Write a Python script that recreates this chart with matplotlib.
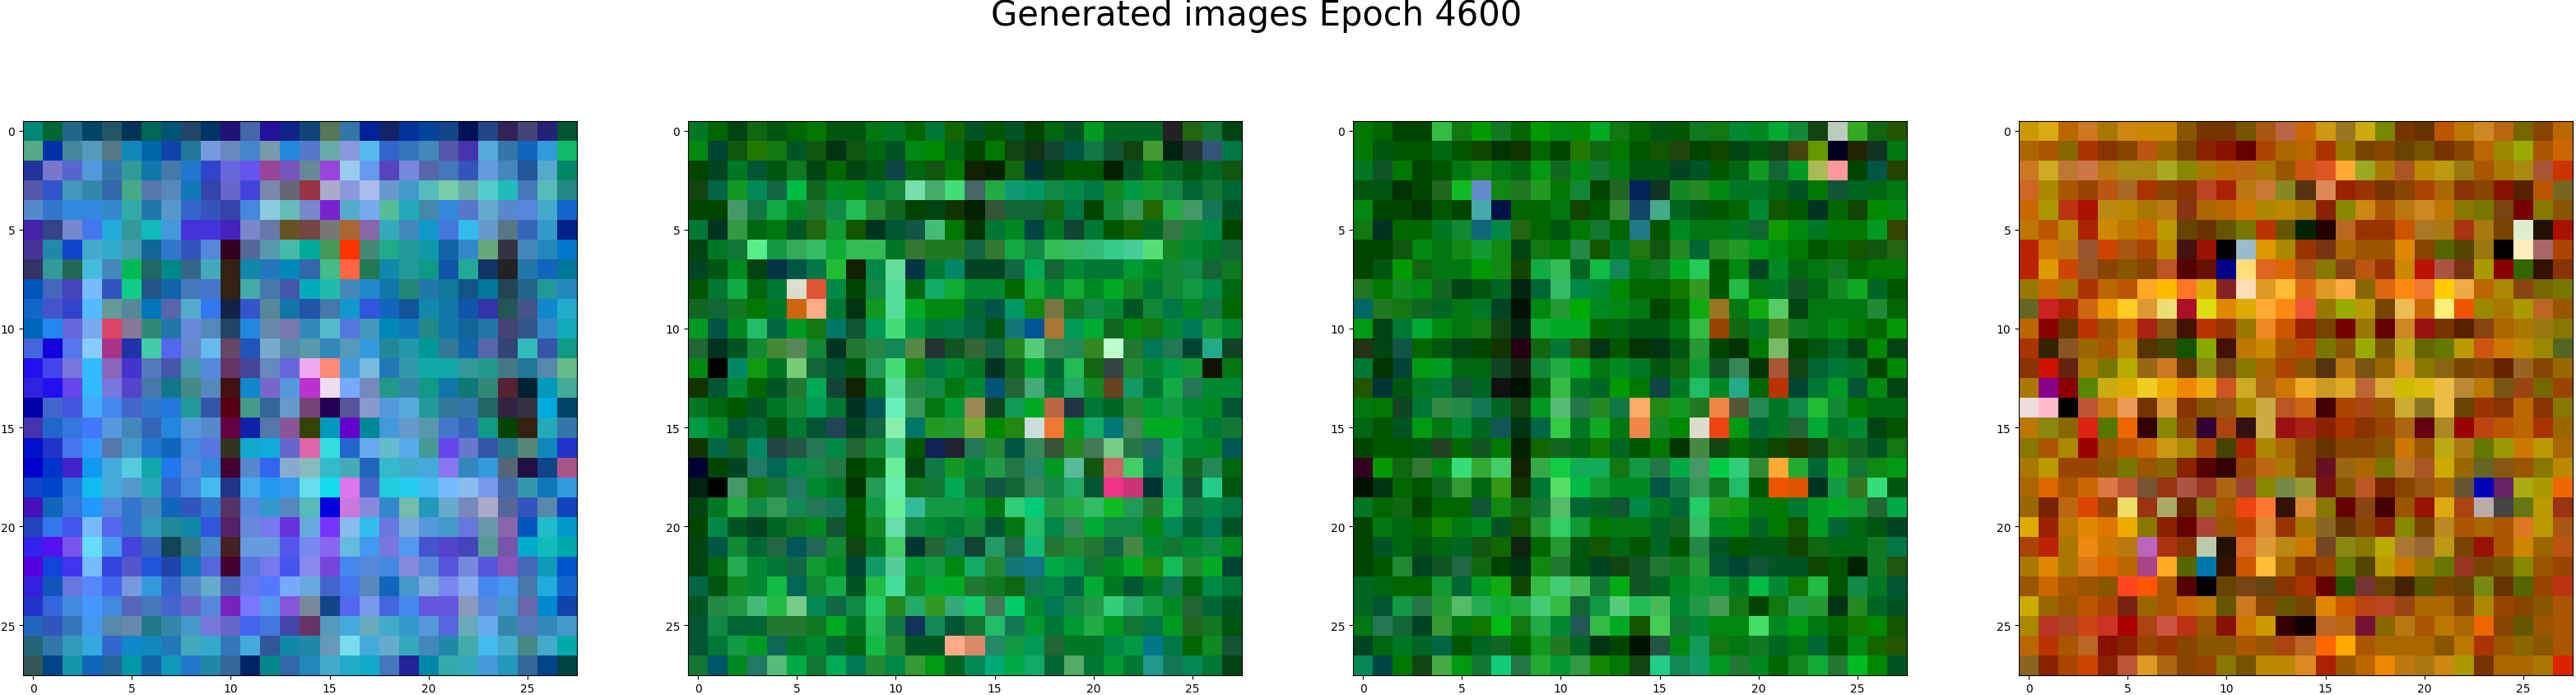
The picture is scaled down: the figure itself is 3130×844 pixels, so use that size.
import numpy as np
import matplotlib
matplotlib.use("Agg")
import matplotlib.pyplot as plt

# each cell is a 3-digit hex colour (r, g, b in 0-f), 28 rows x 28 cells per image
img_blue = [
    "087 063 268 046 256 035 065 057 246 036 217 46a 219 128 147 575 37a 029 126 039 049 148 015 248 325 447 227 053",
    "5a8 03a 489 59b 578 18b 06a 14a 279 79d 68b 48c 79a 28d 57c 6aa 89d 5be 36c 37b 48b 55a 43a 5ad 37a 16b 39d 1b6",
    "239 77c 56c 59d 37a 399 17a 47a 27c 34c 66d 65e 949 75b 689 94d 9ce 69e 54b 78d 56a 47b 35b 69d 48b 259 5ac 086",
    "55a 35c 49b 38a 36a 4a8 57a 58b 17b 34a 66c 44d 78a 667 934 aac 89d abe 69c 49c 5bb 7ca 6aa 5cc 2bb 47b 5bb 288",
    "58c 37c 38d 38d 38c 3aa 27a 59c 36c 35b 34a 48d 8cd 6bb 78c 72c 5ac 7ae 5b9 2ab 48a 38d 57c 6ac 58c 58d 4ac 16c",
    "42a 348 78c 47e 2ad 399 1bb 49d 43d 43d 42b 78c 67a 652 744 777 a63 86a 3ab 48b 19c 47d 3be 69c 578 36b 39c 028",
    "439 28a 14c 4ac 3ac 49a 169 37c 35b 58d 302 569 59a 4ba 0a9 495 f30 487 2a8 299 19a 16a 38c 6a7 334 48b 28b 07c",
    "336 399 265 4bd 48b 0b5 266 088 368 4ab 321 18a 27b 08b 36a 4b8 f64 275 18a 299 198 15a 2a9 136 222 27a 16b 079",
    "05b 46b 44b 7bf 35b 1c8 258 16a 47b 47c 321 4aa 47a 45a 0ab 2ba 48b 28c 17a 287 27a 179 158 079 245 268 299 28b",
    "16c 45c 34c 5bf 699 589 07b 56a 5ac 37e 124 35c 589 17a 25a 47a 19c 35d 16b 159 18a 17a 15a 33a 255 458 18c 2ac",
    "06b 28e 66d 7ae d46 879 387 27a 68d 58b 246 28d 68a 77a 38b 5bc 57d 49b 08b 17b 288 17a 169 27a 447 358 38c 1ab",
    "46d 10d 57e 8cf a38 23a 4ca 56e 68c 6be 646 25b 7ac 58a 59a 38b 59b 39d 289 29a 099 379 16a 56a 347 3bb 35a 198",
    "21e 44e 77d 3bf 86b 43c 57b 45a 49a 58d 636 449 68b 66d eae f87 49d 7bd 27b 39a 1aa 1aa 399 298 478 279 58a 6b8",
    "32d 21e 64e 3bf 77d 54c 47a 178 488 58b 411 18c 76c 59d b3c ede 7af 78b 298 38a 198 17a 177 387 523 023 09b 4a9",
    "00a 46c 45d 4af 48e 46c 37c 27d 299 35a 501 498 369 69c 747 205 559 89c 59d 5ad 299 379 37a 266 324 334 0ad 046",
    "43a 26c 37d 47f 59d 48b 36b 28d 59d 58c 604 12a 57a 859 340 09b 60c 089 49d 69c 59a 47c 36b 198 040 321 2ab 37a",
    "01c 23c 47e 39f 57a 49c 27c 16b 48d 57d 332 1ac 1ad 66c d6a 3dd 26c 6ae 6bc 5ae 499 64e 67c 35a 278 587 18b 23c",
    "00c 03c 42c 19e 4ad 5cd 1aa 27e 58d 38d 403 58c 36e 8ac 8bb 3bc 4ab 26b 3bc 4ac 4ad 87e 38b 39d 567 214 148 a58",
    "14c 04c 27d 1be 4ad 59c 2ab 36c 48d 4be 238 4ae 29e 39e 6de 1de d7e 46c 2cd 2ce 4be 7bf 8be 79e 46a 39a 17b 39d",
    "41b 16b 37d 29f 58d 37c 48b 16b 35b 37c 536 58d 39c 58b 5bb 00d c7d 88d 38c 7ba 29b 6ac 78b aac 569 35b 58a 14b",
    "24b 37e 45e 7bf 56e 37c 39b 289 18a 35d 526 68d 77e 63d 6ad 73f 8be 3be 67d 7ad 59d 49c 67d 69a 86a 05b 2bc 09c",
    "32e 51e 75e 6df 49e 44d 36b 145 378 48c 422 69d 69d 55e 78e 86e 6bd 49e 77d 59e 45c 54c 44b 599 75a 0ac 1bb 0aa",
    "50d 14d 43e 7bf 34d 55c 25d 24a 17b 56d 403 57d 77e 45e 88e 74d 48e 58d 48d 88d 58d 55d 78d 55d 85b 46b 19b 05c",
    "32d 15b 67d 58f 46e 79d 39d 36c 58c 6ac 46b 67e 57f 7af 6ad 46c 47e 58b 16b 49c 7ad 78e 8ae 48e 49e 47a 2ad 16c",
    "23c 36d 48d 49f 48d 56b 47b 46c 66c 58d 72b 77f 59e 85d 789 148 56e 79e 46d 48e 65d 65d 89b 58d 49c 66a 08c 14a",
    "26b 35b 37b 49e 58a 68a 278 38a 49c 77d 66c 46e 47d 44a 636 59b 4ad 6ab 4ac 39c 59d 56d 6ab 6ae 38a 57b 38b 49c",
    "267 37a 39b 3ad 36c 18c 18b 27b 4ab 3ac 37b 4ad 359 18a 28a 69b 7de 4ad 6ac 3ab 48b 28a 4aa 4be 4ac 488 4ac 0aa",
    "355 048 19a 16b 269 09a 16a 19b 27c 28a 369 026 088 36a 28b 4ac 2ac 1ac 47b 229 08a 3aa 3ab 49d 29b 369 048 044",
]

img_green1 = [
    "072 060 041 161 051 060 070 051 051 071 072 060 073 160 052 050 052 040 061 052 092 062 062 062 222 261 173 041",
    "081 043 151 270 171 052 151 031 151 061 052 081 080 061 040 070 141 131 143 054 174 153 141 493 021 233 357 074",
    "040 042 072 053 051 172 041 060 041 051 144 061 151 070 120 020 161 033 041 050 050 020 052 071 062 051 062 151",
    "141 064 192 085 164 0b4 162 082 081 073 183 7da 4a6 4d7 466 2a4 197 096 184 084 074 182 094 193 184 063 173 063",
    "040 040 496 174 1a4 082 273 184 2b5 283 162 040 041 130 020 353 163 163 161 074 040 183 395 260 2a4 496 175 052",
    "073 032 394 061 071 052 261 193 150 032 053 154 4b7 070 030 073 082 044 072 143 073 050 160 062 374 183 084 040",
    "041 072 173 5e8 194 3a5 3b6 1a3 3b5 3b5 072 373 272 272 164 373 1a4 184 3b5 3b6 3b7 3c8 4c9 5d7 182 083 072 163",
    "042 051 082 041 034 054 074 2b3 120 084 6d9 034 073 086 042 042 164 0a5 163 083 073 073 093 082 183 184 163 172",
    "050 073 1a4 061 073 ddc d53 084 040 184 5d9 061 1a6 1a3 083 083 060 1a3 083 1a3 082 0a2 182 073 183 194 084 061",
    "162 163 172 070 072 c61 fa8 073 031 192 5d9 0a2 081 081 063 054 096 181 774 172 184 083 052 183 074 082 174 060",
    "092 054 082 2b6 064 092 171 076 153 095 4d7 094 073 074 064 051 177 059 a73 095 0a3 162 081 171 083 075 193 083",
    "263 032 052 183 483 585 183 032 273 284 185 584 233 152 363 164 282 5c7 385 285 382 bfc 273 075 275 043 2a8 142",
    "081 000 086 191 072 7c7 163 053 051 295 4d7 181 074 083 072 032 162 0a3 063 2b5 161 344 283 083 094 193 110 071",
    "130 053 083 060 052 273 0a5 143 120 072 5d9 284 184 071 083 057 263 4a7 073 2a6 182 642 196 073 1a4 275 083 083",
    "072 061 050 052 072 183 095 073 032 055 6eb 395 071 093 985 142 195 0a2 b64 234 073 062 283 093 194 083 082 053",
    "094 082 053 063 051 073 053 245 042 164 8ea 076 292 293 7a3 080 281 cdd e73 092 1a6 077 485 0a2 0a2 093 073 173",
    "130 064 162 086 244 254 275 084 263 183 4c8 050 125 223 275 283 054 385 353 282 475 7c8 274 266 1a5 083 082 055",
    "003 040 042 276 065 084 184 274 040 061 6e9 041 174 192 083 294 274 286 092 5b9 151 c66 4c6 075 2a5 162 285 061",
    "021 000 496 171 173 276 083 072 030 295 6ea 172 173 0a5 173 154 163 385 184 2a6 053 e38 c37 033 1a6 153 2c8 051",
    "041 072 2a4 184 395 185 275 175 050 194 6e9 3b9 194 194 093 071 3c7 0c7 294 2a4 3b6 1b2 295 273 1b5 174 084 074",
    "040 084 052 042 062 172 082 153 050 182 6da 184 083 073 183 053 071 2b6 084 385 0a3 184 184 081 085 063 075 052",
    "041 054 183 063 264 055 265 183 141 072 4c6 033 263 175 143 296 264 1b7 273 283 273 164 484 083 173 083 184 082",
    "041 061 2a5 083 073 164 193 082 043 196 5c9 093 194 081 1a6 283 177 178 0a4 094 173 082 0a2 281 1b5 283 0a2 043",
    "064 051 182 083 1b4 065 183 1a4 052 2b4 4d9 182 0a3 0a2 273 172 161 175 084 064 0a3 072 053 072 175 061 084 073",
    "052 284 294 4b7 2b4 7c8 085 164 184 2c6 282 2a6 392 3a7 1c6 475 0c6 083 075 184 294 3c7 2a6 194 082 263 063 052",
    "053 184 063 063 273 273 172 0a2 072 2b5 174 135 185 053 173 2b6 175 093 073 093 2a4 092 173 074 092 262 172 051",
    "053 073 194 092 165 072 083 063 061 1b4 283 052 052 fa8 d86 286 194 095 263 072 072 084 094 078 074 060 182 153",
    "173 056 082 276 5b7 0a4 173 0a5 075 283 084 393 091 062 085 0a7 0a4 1a6 063 5a6 073 093 073 298 175 085 073 041",
]

img_green2 = [
    "070 060 040 040 3b4 171 090 172 060 090 081 080 0a2 171 060 051 050 172 171 083 082 0a3 183 141 bcb 3a2 161 250",
    "070 051 050 050 061 050 140 030 130 060 040 270 161 070 050 150 241 040 140 041 051 141 441 690 002 220 132 071",
    "072 152 070 040 050 071 181 071 061 091 162 081 173 071 051 051 042 052 050 061 192 163 092 ab5 f99 040 054 240",
    "051 051 030 040 262 1b2 68c 181 272 292 070 183 040 262 025 132 182 282 081 072 072 061 052 070 153 062 061 071",
    "081 040 040 030 050 040 4aa 014 060 060 071 140 050 383 146 4a8 062 051 050 060 083 150 050 032 060 140 080 081",
    "171 032 060 060 072 183 167 084 261 060 051 070 173 060 278 050 082 071 071 072 163 190 081 072 070 070 092 340",
    "040 040 151 081 071 181 193 181 041 171 070 284 150 072 271 151 282 063 282 292 091 081 070 050 060 150 151 261",
    "040 051 090 161 071 071 090 181 140 1a4 3b5 062 1b4 185 071 172 0a2 2c5 050 081 042 082 061 071 172 060 070 070",
    "272 070 182 081 162 041 051 062 021 063 3b6 084 083 080 060 060 170 392 050 2b4 071 072 152 061 182 1a2 062 050",
    "066 272 171 162 062 071 072 042 010 081 293 0a0 082 081 071 040 060 1a1 972 071 1a1 5c6 041 071 071 071 283 060",
    "091 041 073 0a3 081 071 171 141 021 1a3 0a2 0a2 060 061 051 051 071 3b4 940 161 072 482 172 071 081 070 060 090",
    "231 041 154 060 051 041 040 130 201 161 073 251 031 050 030 031 051 293 040 030 070 7b6 040 051 062 041 080 041",
    "073 030 043 091 092 061 061 142 121 183 2a4 0a2 071 082 072 051 161 193 152 385 030 a53 141 063 073 072 040 080",
    "250 033 051 072 073 153 062 111 010 061 3b4 072 062 090 070 144 072 2b6 082 2a8 060 b30 043 073 092 053 081 041",
    "071 070 142 073 384 284 175 062 141 092 5b7 274 282 174 fa6 281 192 272 e84 553 285 072 184 2b3 183 070 061 061",
    "061 050 052 091 071 083 062 155 031 064 3c4 072 1a2 071 e84 182 080 ddc e41 091 063 072 263 0a3 072 083 041 050",
    "040 050 050 051 242 060 152 070 020 160 162 061 170 062 050 070 030 484 141 060 051 140 230 141 171 162 052 171",
    "302 090 161 373 081 3d7 3a3 4c6 120 3a4 1c4 1a5 1a5 171 194 274 0a4 496 0c4 3c7 383 fa3 2a3 063 1a2 173 181 091",
    "010 031 060 050 162 393 061 391 130 073 5d6 0b4 193 082 082 054 174 395 172 2b6 050 e50 d50 032 194 372 3d7 051",
    "072 060 161 040 060 060 153 181 161 173 5b6 063 062 153 084 072 063 2c6 292 191 071 070 073 092 0a2 193 263 0a4",
    "040 071 061 060 180 071 082 052 150 293 3c6 193 070 071 071 062 162 3b6 082 081 062 070 150 092 063 061 051 042",
    "040 052 061 051 061 062 151 160 121 060 293 051 150 061 050 062 050 284 052 050 051 051 140 161 061 061 172 074",
    "040 050 283 042 152 264 161 040 031 181 273 051 042 141 152 273 172 293 053 043 153 052 052 140 050 020 172 251",
    "062 061 060 060 193 063 092 1a1 140 3b4 4c7 4b5 173 0a1 152 062 082 193 093 072 0b4 083 170 2b4 050 184 072 053",
    "062 053 194 274 293 5b6 2a5 1a3 2a4 4c7 3b4 163 194 5c7 2b5 4b5 083 294 495 171 040 171 294 293 031 282 062 052",
    "071 275 163 042 393 071 170 0b1 171 2a4 083 255 3b4 0a2 150 4c5 173 083 081 081 4d6 082 091 071 060 170 080 150",
    "042 061 072 062 064 050 062 162 060 192 272 062 031 040 010 254 081 195 171 071 172 062 071 063 050 081 160 250",
    "085 044 070 141 4a4 091 173 1c7 274 2a3 093 394 180 070 141 2c8 185 196 092 273 082 060 182 1a3 273 0b2 080 052",
]

img_orange = [
    "c90 da1 b60 c72 a70 c81 c80 c80 850 730 730 750 a51 b64 c60 c91 972 ca1 780 730 630 b50 b70 c82 b61 760 840 b60",
    "a60 a50 860 a30 830 840 b51 960 740 820 810 600 a40 a60 b60 a30 970 740 840 640 750 730 840 b60 980 9a0 a50 c60",
    "c72 ca2 b73 c74 b71 a81 a81 aa2 880 a70 b60 b61 a70 950 c51 d52 fa3 9a2 a70 a52 b80 b91 971 a50 a70 a81 a53 c30",
    "c62 a80 a50 940 b51 a62 a30 840 830 b42 a20 b71 c73 882 531 d85 920 930 730 840 a40 a60 830 840 810 520 b50 762",
    "c60 a90 b31 a10 b81 b80 a70 b71 831 a60 b60 c70 a80 b80 a70 820 880 c81 a50 b71 c82 b70 870 770 741 700 870 850",
    "b70 b50 b80 a20 c80 b70 c60 b90 640 630 650 770 b30 650 020 200 b62 930 930 c50 a72 a71 a31 a71 740 dec 210 a10",
    "b20 c70 b71 953 c40 a51 a40 b80 411 910 000 9bc d90 a80 930 731 a60 950 950 d80 840 560 540 971 000 feb a66 a40",
    "b20 d90 c40 952 840 850 840 b52 500 610 008 fd7 d62 d60 a51 870 841 b51 930 c80 b10 a54 731 a90 800 360 310 830",
    "970 c60 a70 a30 b60 b50 fa2 fb0 f72 da0 822 fdb d92 fb3 d61 d92 fa4 860 d61 f81 e73 fc0 ea4 b60 a80 841 760 770",
    "662 c22 a20 c61 e90 fc2 d93 ed7 a12 dd1 d80 da0 fa3 f81 e53 970 9a0 b90 740 eb5 c60 fe7 e50 980 a70 a90 b62 950",
    "b60 800 630 b30 950 c60 a21 851 410 b30 930 970 e82 c50 920 740 700 970 600 c82 911 730 520 841 a60 a70 971 870",
    "a30 320 852 960 a50 b80 530 440 150 8a0 410 b70 c80 a50 b40 770 850 9a0 750 ba1 660 670 b90 c51 c70 b80 980 562",
    "830 c10 621 a70 770 ba0 961 c72 630 881 741 870 a60 a40 850 531 b71 751 960 d92 870 861 740 840 620 962 840 960",
    "a70 808 800 580 ca1 da0 ec2 ea0 e80 ea1 c52 ca2 a61 c70 ea2 c92 da2 b63 da3 cb0 db1 eb4 b83 b70 751 941 760 940",
    "edd fbc 000 b53 c71 e95 730 d93 830 850 951 a80 ca4 b52 c61 400 a40 a41 950 ca3 872 eb4 640 930 830 b60 830 870",
    "b70 881 860 d21 570 e60 300 880 840 303 a41 311 ca4 911 a21 820 a30 830 940 a61 601 a82 900 b41 b50 b60 a30 960",
    "870 a50 a80 900 950 b50 c60 c91 a80 a40 440 a20 a80 a60 840 630 840 840 850 c70 950 ba1 a71 670 990 c70 b90 a60",
    "a70 b90 940 940 850 770 950 860 820 500 300 940 b61 a70 840 612 961 a60 770 b72 a52 ca0 960 662 851 950 870 b80",
    "a60 d60 a50 c60 d74 b53 753 931 a54 932 a61 943 880 784 993 711 850 b52 720 840 951 a60 653 00b 626 aa1 a90 e60",
    "960 720 b61 d40 940 ed6 931 aa6 620 871 a50 e41 f73 310 d83 870 600 841 400 950 910 da1 a41 baa 444 671 b90 931",
    "da0 920 b70 d80 d70 ea0 870 820 600 a43 950 b40 d83 930 a70 862 630 840 820 880 740 b82 a50 a60 a50 d72 b90 a51",
    "a40 b20 a70 e81 c70 b71 b6b a31 830 bca 210 d62 d93 b81 c70 742 881 870 ba0 a73 963 b91 740 910 a50 c80 960 b51",
    "a70 d80 a70 d71 d60 b60 a48 fa2 560 07a 310 c50 fb3 a60 830 940 670 540 b90 c70 970 670 932 740 750 880 950 940",
    "950 c60 a50 950 850 f42 f50 a50 500 000 640 741 641 830 a30 600 250 733 640 420 550 740 640 781 630 560 940 b31",
    "ca0 960 950 b50 a40 721 960 a50 c60 b70 650 c72 840 650 740 d80 c50 b41 b42 941 a60 a60 840 a80 940 840 850 a50",
    "a80 b32 a42 c41 c32 a00 a41 c54 b31 950 810 c70 c90 300 100 b62 b61 713 860 b71 a50 b70 a60 e60 840 650 950 a50",
    "b60 b30 a50 b62 810 820 940 930 840 850 850 a50 950 a41 b62 f60 fa0 a50 a60 a60 a60 850 b70 a30 950 860 850 a50",
    "862 820 a40 c40 820 b53 d92 a61 840 940 870 750 b80 b80 d82 a20 950 b60 e80 b71 a71 c81 a90 730 a60 a60 a70 d20",
]

title = "Generated images Epoch 4600"


def decode(rows):
    # hex digit -> value in [0, 1]
    return np.array([[[int(c, 16) / 15.0 for c in cell] for cell in r.split()]
                     for r in rows])


images = [decode(img_blue), decode(img_green1), decode(img_green2), decode(img_orange)]

W, H = 3130, 845
fig = plt.figure(figsize=(W / 100, H / 100), dpi=100)

lefts = [28, 836, 1644, 2453]
for left, img in zip(lefts, images):
    ax = fig.add_axes([left / W, 24 / H, 673 / W, 674 / H])
    ax.imshow(img, interpolation="nearest")

fig.text(1527 / W, 1 - 31 / H, title, fontsize=30, ha="center", va="baseline")

fig.savefig("out.png", dpi=100)
